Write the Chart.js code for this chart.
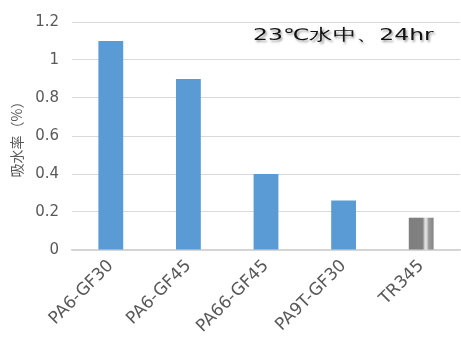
<!DOCTYPE html>
<html>
<head>
<meta charset="utf-8">
<script src="https://cdn.jsdelivr.net/npm/chart.js@4.4.1/dist/chart.umd.min.js"></script>
<style>
  html, body { margin: 0; padding: 0; background: #fff; }
  #wrap { position: relative; width: 461px; height: 341px; }
  #note {
    position: absolute; left: 253px; top: 25px;
    font-family: "DejaVu Sans", sans-serif; font-size: 16px; color: #111;
    text-shadow: 1px 2px 2px rgba(0,0,0,0.4); white-space: nowrap;
    transform-origin: 0 0;
  }
</style>
</head>
<body>
<div id="wrap">
  <canvas id="absorptionChart" width="461" height="341"></canvas>
  <div id="note">23℃水中、24hr</div>
</div>
<script>
// water absorption after 24h immersion at 23°C
const grades = ['PA6-GF30', 'PA6-GF45', 'PA66-GF45', 'PA9T-GF30', 'TR345'];
const absorption = [1.1, 0.9, 0.4, 0.26, 0.17];
const yTicks = [0, 0.2, 0.4, 0.6, 0.8, 1, 1.2];

const FONT = '"DejaVu Sans", sans-serif';
const BAR_PCT = 0.32;

// the condition note is drawn wide, stretch it out to ~180px
const note = document.getElementById('note');
note.style.transform = 'scaleX(' + (180 / note.offsetWidth) + ')';

// TR345 bar gets a grey cylinder-style shading
function barFill(ctx) {
  if (ctx.dataIndex !== 4) return '#5b9bd5';
  const chart = ctx.chart;
  const xs = chart.scales.x;
  if (!xs) return '#808080';
  const cx = xs.getPixelForValue(4);
  const w = (xs.width / grades.length) * BAR_PCT;
  const g = chart.ctx.createLinearGradient(cx - w / 2, 0, cx + w / 2, 0);
  g.addColorStop(0, '#7f7f7f');
  g.addColorStop(0.55, '#808080');
  g.addColorStop(0.6, '#a6a6a6');
  g.addColorStop(0.66, '#e6e6e6');
  g.addColorStop(0.74, '#d0d0d0');
  g.addColorStop(0.8, '#9a9a9a');
  g.addColorStop(1, '#858585');
  return g;
}

const ctx = document.getElementById('absorptionChart').getContext('2d');
new Chart(ctx, {
  type: 'bar',
  data: {
    labels: grades,
    datasets: [{
      data: absorption,
      backgroundColor: barFill,
      borderWidth: 0,
      barPercentage: BAR_PCT,
      categoryPercentage: 1
    }]
  },
  options: {
    responsive: false,
    animation: false,
    layout: { padding: { top: 20, right: 1, left: 0, bottom: 0 } },
    plugins: { legend: { display: false }, tooltip: { enabled: false } },
    scales: {
      x: {
        grid: { display: false, drawTicks: false },
        border: { color: '#d4d4d4', width: 1.5 },
        ticks: {
          color: '#595959',
          font: { family: FONT, size: 17 },
          maxRotation: 45, minRotation: 45,
          padding: 6
        },
        afterFit(scale) { scale.height = 91; }
      },
      y: {
        min: 0, max: 1.2,
        afterBuildTicks(scale) { scale.ticks = yTicks.map(v => ({ value: v })); },
        grid: { color: '#d9d9d9', drawTicks: false, lineWidth: 1 },
        border: { display: false },
        ticks: {
          color: '#595959',
          font: { family: FONT, size: 15 },
          padding: 13,
          callback: v => String(v)
        },
        title: {
          display: true,
          text: '吸水率（%）',
          color: '#595959',
          font: { family: '"Noto Sans CJK JP", sans-serif', size: 14 },
          padding: { top: 8, bottom: 0 }
        },
        afterFit(scale) { scale.width = 72; }
      }
    }
  }
});
</script>
</body>
</html>
